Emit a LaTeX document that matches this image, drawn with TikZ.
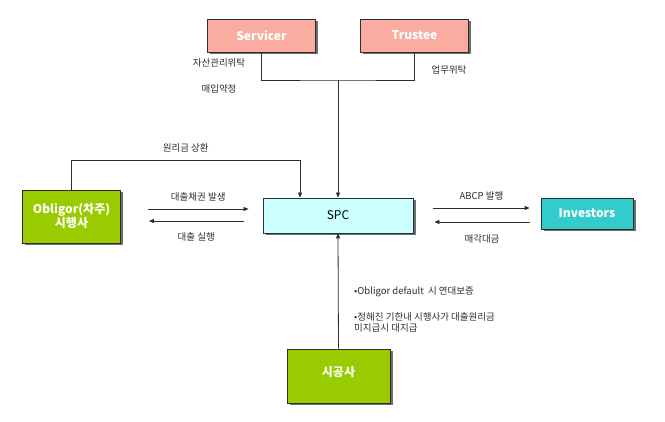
\documentclass[tikz,border=0pt]{standalone}
\usepackage{fontspec}
\setmainfont{Noto Sans CJK KR}
\usepackage{tikz}
\usetikzlibrary{positioning, arrows.meta, calc, shadows}
\usepackage{xcolor}
\definecolor{DealSalmon}{RGB}{250, 172, 160}
\definecolor{DealCyan}{RGB}{204, 255, 255}
\definecolor{DealLime}{RGB}{153, 204, 0}
\definecolor{DealTeal}{RGB}{51, 204, 204}
\definecolor{DealInk}{RGB}{45, 45, 45}
\definecolor{DealShadow}{RGB}{110, 110, 110}
\colorlet{BoxStroke}{DealInk}
\colorlet{LineColor}{DealInk}
\colorlet{LabelText}{DealInk}
\tikzset{
    % Party box (common look)
    party/.style={
        draw=BoxStroke,
        rectangle,
        line width=0.8pt,
        inner sep=0pt,
        align=center,
        text=white,
        font=\fontsize{12}{14}\selectfont\bfseries,
        drop shadow={shadow xshift=2.5pt, shadow yshift=-2.5pt,
                     fill=DealShadow, opacity=1}
    },
    % Servicer / Trustee
    agentbox/.style={party, fill=DealSalmon, minimum width=108pt, minimum height=33pt},
    % SPC
    spcbox/.style={party, fill=DealCyan, text=black, font=\fontsize{12}{14}\selectfont,
                   minimum width=150pt, minimum height=35pt},
    % Obligor / constructor
    limebox/.style={party, fill=DealLime, minimum width=98pt, minimum height=53pt},
    % Investors
    investbox/.style={party, fill=DealTeal, minimum width=92pt, minimum height=31pt},
    % Small labels
    lbl/.style={
        text=LabelText,
        inner sep=1pt,
        font=\fontsize{9.5}{11}\selectfont
    },
    % Arrow style
    flow/.style={
        -{Triangle[length=5pt, width=4pt]},
        line width=0.8pt,
        color=LineColor
    },
    % Plain line
    wire/.style={
        line width=0.8pt,
        color=LineColor
    }
}

\begin{document}
\begin{tikzpicture}[x=1pt, y=1pt]

    \path[use as bounding box, fill=white] (0,0) rectangle (665,421);

    % ==========================================
    % PARTIES
    % ==========================================

    \node[agentbox] (srv) at (261.5, 385.5) {Servicer};
    \node[agentbox] (trs) at (414.5, 385.5) {Trustee};
    \node[spcbox] (spc) at (338, 205.5) {SPC};
    \node[limebox] (obl) at (71.5, 204.5) {Obligor(차주)\\시행사};
    \node[investbox] (inv) at (587, 207.5) {Investors};
    \node[limebox, minimum width=103pt, minimum height=54pt, text depth=10pt] (cons) at (338.5, 45) {시공사};

    % ==========================================
    % SERVICER / TRUSTEE -> SPC
    % ==========================================

    \coordinate (join) at (spc.north |- 0, 341);
    \draw[wire] (srv.south) |- (join) -| (trs.south);
    \draw[flow] (join) -- (spc.north);

    \node[lbl] (srvlab1) at ($(srv.south)+(-42.5,-11)$) {자산관리위탁};
    \node[lbl] (srvlab2) at ($(srv.south)+(-42.5,-37)$) {매입약정};
    \node[lbl] (trslab) at ($(trs.south)+(34.5,-18)$) {업무위탁};

    % ==========================================
    % OBLIGOR <-> SPC
    % ==========================================

    \draw[flow] (obl.north) -- ++(0,29)
        -| node[lbl, pos=0.25, above=7pt] (repay) {원리금 상환}
        ([xshift=-38pt]spc.north);

    \draw[flow] ($(obl.east)+(27,7.5)$) -- ($(spc.west)+(-14,6.5)$)
        node[lbl, midway, above=6pt] (loanin) {대출채권 발생};
    \draw[flow] ($(spc.west)+(-19,-5.5)$) -- ($(obl.east)+(28,-4.5)$)
        node[lbl, midway, below=10pt] (loanout) {대출 실행};

    % ==========================================
    % SPC <-> INVESTORS
    % ==========================================

    \draw[flow] ($(spc.east)+(20,7.5)$) -- ($(inv.west)+(-11,5.5)$)
        node[lbl, midway, above=6pt] (issue) {ABCP 발행};
    \draw[flow] ($(inv.west)+(-11,-8.5)$) -- ($(spc.east)+(21,-6.5)$)
        node[lbl, midway, below=11pt] (proceeds) {매각대금};

    % ==========================================
    % CONSTRUCTOR -> SPC
    % ==========================================

    \draw[flow] (cons.north) -- (spc.south);
    \node[lbl, anchor=north west, align=left] (notes) at ($(spc.south)+(15,-52)$)
        {•Obligor default\ \ 시 연대보증\\[15pt]•정해진 기한내 시행사가 대출원리금\\미지급시 대지급};

\end{tikzpicture}
\end{document}
